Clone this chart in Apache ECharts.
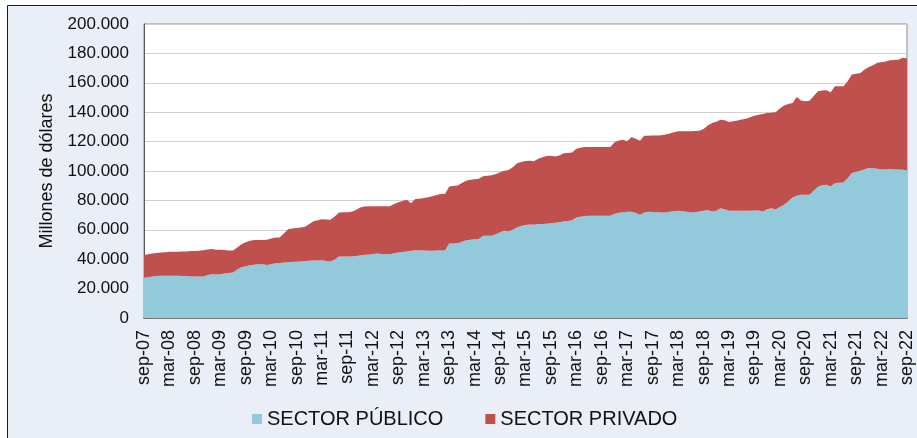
<!DOCTYPE html>
<html>
<head>
<meta charset="utf-8">
<script src="https://cdn.jsdelivr.net/npm/echarts@6/dist/echarts.min.js"></script>
<style>
html,body{margin:0;padding:0;background:#fff;}
#chart{width:917px;height:438px;}
</style>
</head>
<body>
<div id="chart"></div>
<script>
// Monthly, sep-07 .. sep-22 (millones de dólares)
var monthNames = ['ene','feb','mar','abr','may','jun','jul','ago','sep','oct','nov','dic'];
var startYear = 2007, startMonth = 8, monthCount = 181;
var categories = [];
for (var k = 0; k < monthCount; k++) {
  var m = (startMonth + k) % 12;
  var y = startYear + Math.floor((startMonth + k) / 12);
  categories.push(monthNames[m] + '-' + String(y % 100).padStart(2, '0'));
}

var seriesNames = ['SECTOR PÚBLICO', 'SECTOR PRIVADO'];

var sectorPublico = [
27500,27800,28200,28600,28800,28800,28800,28700,28700,28600,
28600,28300,28200,28200,28300,29200,29800,29600,29800,30200,
30600,30900,33000,34500,35200,35800,36300,36800,36600,36100,
36500,37200,37500,37800,38000,38200,38200,38500,38800,39000,
39100,39200,39300,38800,38400,39800,41800,41800,41800,41800,
42200,42600,43000,43100,43500,43800,43600,43400,43400,44000,
44600,44900,45300,45700,46100,46000,45900,45800,45800,45900,
45900,45900,50600,50700,50800,51800,52900,53300,53600,53800,
55900,55900,55900,57000,58300,59300,59000,60000,61800,62600,
63200,63600,63400,63900,64000,64100,64500,64800,65200,65700,
66000,66500,68300,68900,69400,69500,69500,69500,69500,69500,
69600,71000,71600,72000,72200,72200,71400,70200,71800,72200,
72100,72000,71800,71800,72300,72700,72900,72600,72200,71800,
72000,72500,73000,73500,72500,73000,74700,74000,72900,72900,
72900,72900,72900,73000,73100,73100,72500,74000,74700,73800,
75500,77000,79500,82000,83200,83800,83800,83800,86500,89300,
90300,90600,89500,91800,92000,92200,95000,98600,99500,100200,
101200,102000,101800,101600,101000,101000,101400,101100,101000,100900,
100500
];

var sectorPrivado = [
15400,15500,15600,15700,15800,16000,16200,16300,16400,16600,
16700,17200,17400,17600,17800,17400,17200,16900,16600,16000,
15400,15000,15000,15700,16300,16700,16800,16300,16500,17100,
17500,17500,17300,19700,22400,22600,23100,23100,23200,25000,
26700,27300,27900,28200,28400,29200,30000,30100,30200,30400,
31300,32600,32800,33000,32500,32200,32400,32600,32600,33500,
34200,34700,35100,32400,34800,35200,35700,36400,37100,37700,
38400,38400,38900,39100,39400,40000,40500,40700,40800,40900,
40600,40900,41200,41000,40900,40900,41600,42500,43500,43600,
43600,43300,43200,44400,45300,46100,45800,45100,45300,46300,
46300,46100,46900,46900,46900,46800,46800,46800,46800,46800,
46700,48500,49200,49300,48000,50900,50600,50400,52200,51800,
52000,52200,52600,53000,53200,53600,54100,54400,54800,55200,
55200,54900,55500,57500,60200,60500,60200,60500,60400,60900,
61400,62100,62700,63600,64500,65100,66300,65500,65000,66100,
67000,67500,66100,64300,67200,64200,63600,64000,64500,64900,
64400,64300,64000,65800,65600,65400,66000,67000,66700,66500,
67800,68800,70200,72000,73000,73500,73900,74400,74700,76100,
76000
];

var yAxisName = 'Millones de dólares';
var yMin = 0, yMax = 200000, yStep = 20000;

function fmt(v) {
  return String(v).replace(/\B(?=(\d{3})+(?!\d))/g, '.');
}

var chart = echarts.init(document.getElementById('chart'), null, {renderer: 'canvas'});
var FONT = '"Liberation Sans", Arial, sans-serif';
chart.setOption({
  backgroundColor: '#ffffff',
  animation: false,
  graphic: [{
    type: 'rect', z: -100, silent: true,
    shape: {x: 7.5, y: 5.5, width: 930, height: 450},
    style: {fill: '#EAEEF6', stroke: '#1a1a1a', lineWidth: 1}
  }],
  legend: {
    left: 247, top: 404,
    itemWidth: 10, itemHeight: 10, itemGap: 42,
    icon: 'rect',
    textStyle: {fontFamily: FONT, fontSize: 20, color: '#111'},
    data: seriesNames
  },
  grid: {
    left: 144, right: 10, top: 24, bottom: 120,
    show: true, backgroundColor: '#ffffff', borderColor: '#8c8c8c', borderWidth: 1,
    containLabel: false
  },
  xAxis: {
    type: 'category', data: categories, boundaryGap: false,
    axisLine: {show: true, lineStyle: {color: '#595959', width: 1.5}},
    axisTick: {show: false},
    axisLabel: {interval: 5, rotate: 90, margin: 12, fontFamily: FONT, fontSize: 18, color: '#111'},
    splitLine: {show: false}
  },
  yAxis: {
    type: 'value', min: yMin, max: yMax, interval: yStep,
    name: yAxisName, nameLocation: 'middle', nameGap: 88, nameRotate: 90,
    nameTextStyle: {fontFamily: FONT, fontSize: 18, color: '#111'},
    axisLine: {show: true, lineStyle: {color: '#595959', width: 1}},
    axisTick: {show: false},
    axisLabel: {margin: 15, fontFamily: FONT, fontSize: 17, color: '#111', formatter: fmt},
    splitLine: {show: true, lineStyle: {color: '#d0d0d0', width: 1}}
  },
  series: [{
    name: seriesNames[0], type: 'line', stack: 'total', data: sectorPublico,
    showSymbol: false, symbol: 'none', lineStyle: {width: 0},
    itemStyle: {color: '#92CADB'}, areaStyle: {color: '#92CADB', opacity: 1}
  }, {
    name: seriesNames[1], type: 'line', stack: 'total', data: sectorPrivado,
    showSymbol: false, symbol: 'none', lineStyle: {width: 0},
    itemStyle: {color: '#C0504D'}, areaStyle: {color: '#C0504D', opacity: 1}
  }]
});
</script>
</body>
</html>
